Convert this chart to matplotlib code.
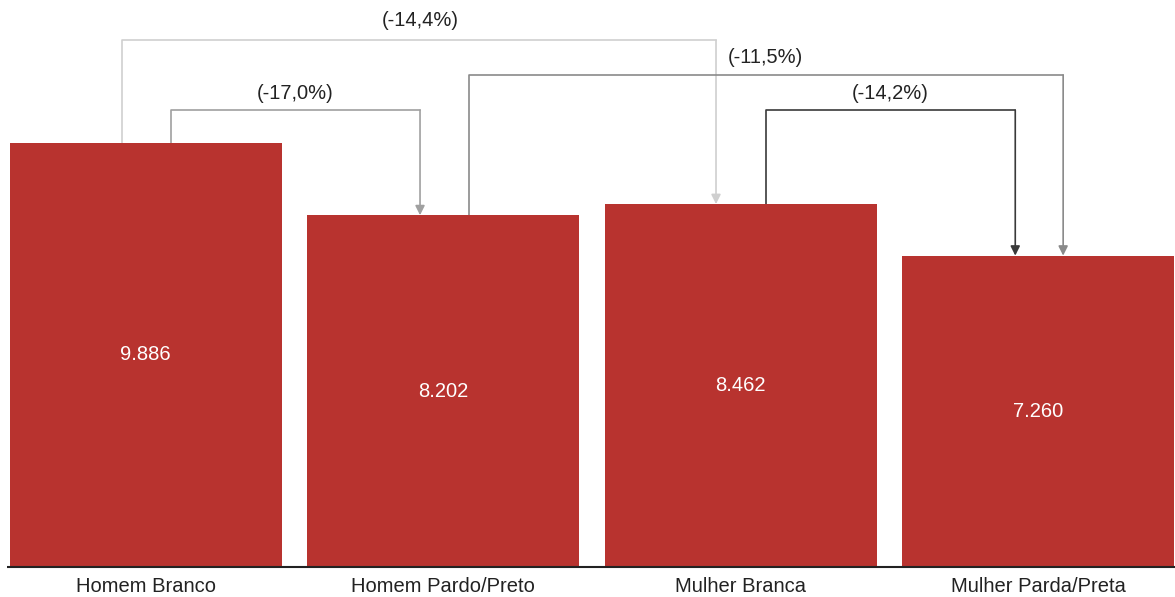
import numpy as np
import matplotlib.pyplot as plt

plt.rcParams['font.family'] = ['Liberation Sans', 'DejaVu Sans']

categories = ["Homem Branco", "Homem Pardo/Preto", "Mulher Branca", "Mulher Parda/Preta"]
values = [9.886, 8.202, 8.462, 7.260]
value_labels = ["9.886", "8.202", "8.462", "7.260"]

# comparisons: (from bar, to bar, label)
pairs_from = [0, 0, 1, 2]
pairs_to = [2, 1, 3, 3]
pair_labels = ["(-14,4%)", "(-17,0%)", "(-11,5%)", "(-14,2%)"]

bar_color = '#b8332f'
x = np.arange(len(categories))

fig = plt.figure(figsize=(11.75, 5.97), dpi=100)
ax = fig.add_axes([0, 30/597, 1, 567/597])
ax.bar(x, values, width=0.915, color=bar_color, zorder=2)
ax.set_xlim(-0.49, 3.46)
ax.set_ylim(0, 13.22)

for xi, v, lab in zip(x, values, value_labels):
    ax.text(xi, v / 2, lab, color='white', ha='center', va='center', fontsize=14.5)

ax.hlines(0, -0.465, 3.46, color='#222222', lw=1.5, clip_on=False, zorder=3)

# brackets: left offset, right offset, top height, colour, label pos
left_off = [-0.08, 0.085, 0.087, 0.085]
right_off = [-0.083, -0.078, 0.084, -0.077]
tops = [12.28, 10.65, 11.47, 10.65]
colors = ['#cfcfcf', '#a0a0a0', '#8a8a8a', '#3a3a3a']
label_x = [0.922, 0.502, 2.082, 2.502]
label_y = [12.75, 11.05, 11.89, 11.05]

for i in range(len(pairs_from)):
    a, b = pairs_from[i], pairs_to[i]
    xa = x[a] + left_off[i]
    xb = x[b] + right_off[i]
    ax.plot([xa, xa, xb], [values[a], tops[i], tops[i]], color=colors[i], lw=1.2, zorder=1)
    ax.annotate('', xy=(xb, values[b]), xytext=(xb, tops[i]),
                arrowprops=dict(arrowstyle='-|>', color=colors[i], lw=1.2,
                                mutation_scale=14, shrinkA=0, shrinkB=0), zorder=1)
    ax.text(label_x[i], label_y[i], pair_labels[i], ha='center', va='center',
            fontsize=14.5, color='#222222')

ax.set_xticks(x)
ax.set_xticklabels(categories, fontsize=14.5, color='#222222')
ax.tick_params(axis='x', length=0, pad=7)
ax.set_yticks([])
for s in ax.spines.values():
    s.set_visible(False)

plt.savefig('out.png', dpi=100)
